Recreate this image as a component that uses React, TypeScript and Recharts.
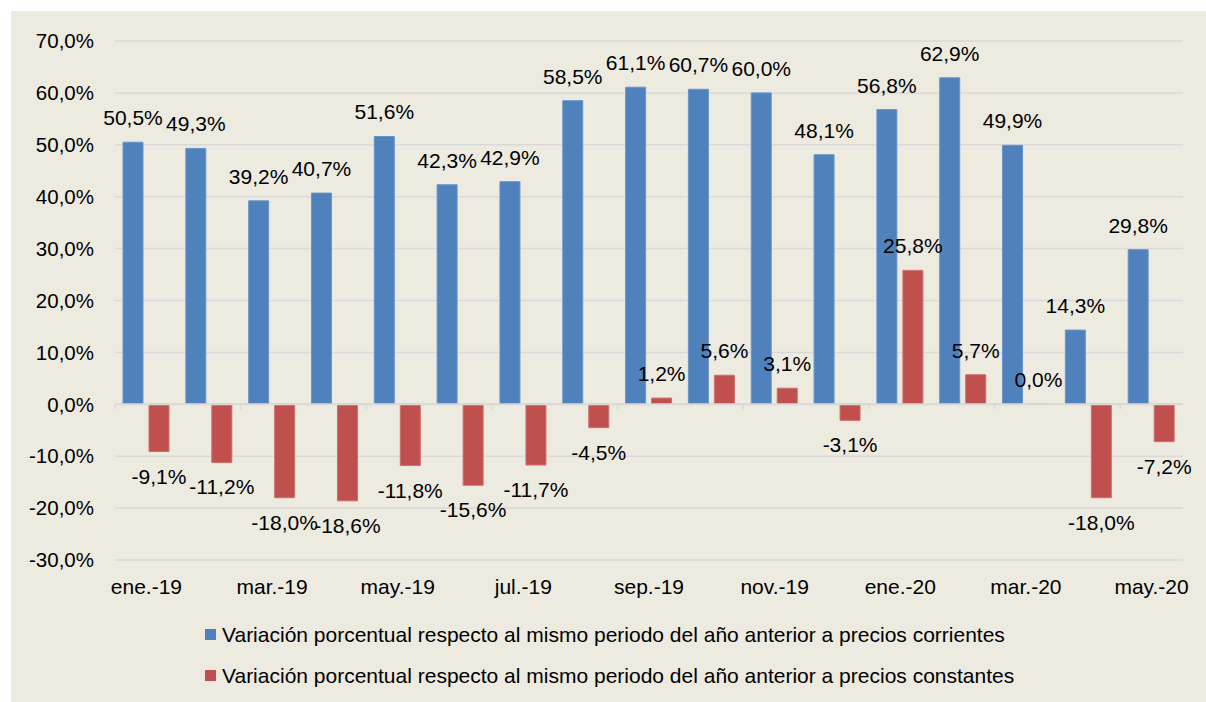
import { BarChart, Bar, XAxis, YAxis, CartesianGrid, ReferenceLine, LabelList } from 'recharts';

const months = [
  'ene.-19', 'feb.-19', 'mar.-19', 'abr.-19', 'may.-19', 'jun.-19', 'jul.-19', 'ago.-19',
  'sep.-19', 'oct.-19', 'nov.-19', 'dic.-19', 'ene.-20', 'feb.-20', 'mar.-20', 'abr.-20', 'may.-20',
];
const corrientes = [50.5, 49.3, 39.2, 40.7, 51.6, 42.3, 42.9, 58.5, 61.1, 60.7, 60.0, 48.1, 56.8, 62.9, 49.9, 14.3, 29.8];
const constantes = [-9.1, -11.2, -18.0, -18.6, -11.8, -15.6, -11.7, -4.5, 1.2, 5.6, 3.1, -3.1, 25.8, 5.7, 0.0, -18.0, -7.2];
const yTicks = [-30, -20, -10, 0, 10, 20, 30, 40, 50, 60, 70];

const seriesNames = [
  'Variación porcentual respecto al mismo periodo del año anterior a precios corrientes',
  'Variación porcentual respecto al mismo periodo del año anterior a precios constantes',
];

const data = months.map((m, i) => ({ month: m, corrientes: corrientes[i], constantes: constantes[i] }));

const FONT = '"Liberation Sans", Arial, Helvetica, sans-serif';
const BLUE = '#4F81BD';
const RED = '#C0504D';
const GRID = '#D9D9D9';

const fmt = (v: number) => `${v.toFixed(1).replace('.', ',')}%`;

// plot geometry (local to the chart)
const CHART_W = 1195;
const CHART_H = 691;
const PLOT_LEFT = 104;
const PLOT_RIGHT = 23;
const PLOT_TOP = 30;
const PLOT_H = 519;
const X_AXIS_H = 30;
const BAND = (CHART_W - PLOT_LEFT - PLOT_RIGHT) / months.length;
const ZERO_Y = PLOT_TOP + (70 / 100) * PLOT_H;

function BarLabel(props: any) {
  const { x, y, width, height, value } = props;
  const top = Math.min(y, y + height);
  const bottom = Math.max(y, y + height);
  const cx = x + width / 2;
  const ty = value >= 0 ? top - 17 : bottom + 32;
  return (
    <text x={cx} y={ty} textAnchor="middle" fontSize={21} fontFamily={FONT} fill="#000">
      {fmt(value)}
    </text>
  );
}

function MonthTick(props: any) {
  const { x, y, payload } = props;
  const bx = x - BAND / 2;
  return (
    <g>
      <line x1={bx} x2={bx} y1={ZERO_Y} y2={ZERO_Y + 5} stroke={GRID} strokeWidth={1.5} />
      <text x={x} y={y} dy="0.71em" textAnchor="middle" fontSize={21} fontFamily={FONT} fill="#000">
        {payload.value}
      </text>
    </g>
  );
}

function LegendBox() {
  const colors = [BLUE, RED];
  return (
    <div style={{ position: 'absolute', left: 194, top: 603, fontFamily: FONT, fontSize: 21, color: '#000' }}>
      {seriesNames.map((name, i) => (
        <div key={name} style={{ display: 'flex', alignItems: 'center', height: 41, whiteSpace: 'nowrap' }}>
          <span style={{ width: 11, height: 11, background: colors[i], marginRight: 6, display: 'inline-block' }} />
          <span>{name}</span>
        </div>
      ))}
    </div>
  );
}

export default function App() {
  return (
    <div style={{ position: 'absolute', left: 0, top: 0, width: 1206, height: 702, background: '#fff', overflow: 'hidden' }}>
      <div style={{ position: 'absolute', left: 11, top: 11, width: CHART_W, height: CHART_H, background: '#EDEAE0' }}>
        <BarChart
          width={CHART_W}
          height={CHART_H}
          data={data}
          margin={{ top: PLOT_TOP, right: PLOT_RIGHT, left: 0, bottom: CHART_H - PLOT_TOP - PLOT_H - X_AXIS_H }}
          barSize={20}
          barGap={6}
        >
          <CartesianGrid vertical={false} stroke={GRID} strokeWidth={1.5} />
          <XAxis
            dataKey="month"
            interval={1}
            axisLine={false}
            tickLine={false}
            tickSize={0}
            tickMargin={19}
            height={X_AXIS_H}
            tick={<MonthTick />}
          />
          <YAxis
            domain={[-30, 70]}
            ticks={yTicks}
            width={PLOT_LEFT}
            axisLine={false}
            tickLine={false}
            tickSize={0}
            tickMargin={21}
            tickFormatter={fmt}
            tick={{ fontSize: 20.5, fontFamily: FONT, fill: '#000' }}
          />
          <ReferenceLine y={0} stroke={GRID} strokeWidth={2} />
          <Bar dataKey="corrientes" fill={BLUE} stroke="#6A95CA" strokeWidth={1} isAnimationActive={false}>
            <LabelList dataKey="corrientes" content={<BarLabel />} />
          </Bar>
          <Bar dataKey="constantes" fill={RED} stroke="#D06E6B" strokeWidth={1} minPointSize={0.01} isAnimationActive={false}>
            <LabelList dataKey="constantes" content={<BarLabel />} />
          </Bar>
        </BarChart>
        <LegendBox />
      </div>
    </div>
  );
}
